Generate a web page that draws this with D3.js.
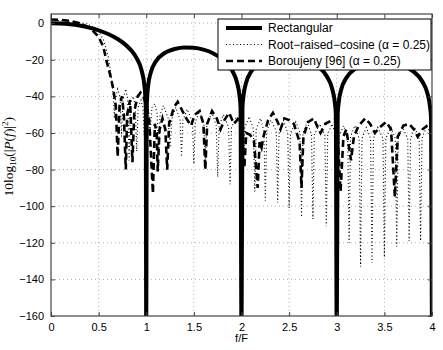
<!DOCTYPE html>
<html>
<head>
<meta charset="utf-8">
<script src="https://cdn.jsdelivr.net/npm/d3@7"></script>
<style>
  body { margin: 0; background: #fff; }
  svg { display: block; }
</style>
</head>
<body>
<svg id="chart" width="443" height="350"></svg>
<script>
const fTicks = [0, 0.5, 1, 1.5, 2, 2.5, 3, 3.5, 4];
const dbTicks = [-160, -140, -120, -100, -80, -60, -40, -20, 0];

const seriesNames = ["Rectangular", "Root\u2212raised\u2212cosine (\u03b1 = 0.25)", "Boroujeny [96] (\u03b1 = 0.25)"];

// [f/F, dB]
const rectangular = [
    [0, 0], [0.1, -0.14], [0.2, -0.58], [0.3, -1.33], [0.4, -2.42], [0.5, -3.92], [0.6, -5.94],
    [0.7, -8.69], [0.8, -12.6], [0.85, -15.4], [0.9, -19.2], [0.95, -25.6], [0.98, -33.8],
    [0.99, -39.9], [0.995, -46], [1, -175], [1.005, -46.1], [1.01, -40.1], [1.02, -34.2],
    [1.05, -26.5], [1.1, -21], [1.2, -16.1], [1.3, -14.1], [1.4, -13.3], [1.5, -13.5],
    [1.6, -14.5], [1.7, -16.4], [1.8, -19.7], [1.9, -25.7], [1.95, -31.9], [1.98, -39.9],
    [1.99, -46], [2, -175], [2.01, -46.1], [2.02, -40.1], [2.05, -32.3], [2.1, -26.6],
    [2.2, -21.4], [2.3, -19], [2.4, -18], [2.5, -17.9], [2.6, -18.7], [2.7, -20.4],
    [2.8, -23.5], [2.9, -29.4], [2.95, -35.5], [2.98, -43.5], [2.99, -49.5], [3, -175],
    [3.01, -49.6], [3.02, -43.6], [3.05, -35.7], [3.1, -30], [3.2, -24.7], [3.3, -22.2],
    [3.4, -21], [3.5, -20.8], [3.6, -21.5], [3.7, -23.2], [3.8, -26.2], [3.9, -32],
    [3.95, -38], [3.98, -46], [3.99, -52], [4, -175]
];

const rootRaisedCosine = [
    [0, 1.5], [0.1, 1.3], [0.2, 0.8], [0.3, 0.2], [0.38, -0.5], [0.44, -2], [0.5, -4.5],
    [0.55, -9], [0.6, -18], [0.63, -28], [0.655, -40], [0.665, -52], [0.675, -42], [0.7, -36],
    [0.725, -40], [0.74, -62], [0.755, -42], [0.785, -36], [0.805, -42], [0.82, -75],
    [0.835, -43], [0.865, -40], [0.885, -46], [0.9, -70], [0.915, -46], [0.945, -42],
    [0.965, -46], [0.98, -62], [0.995, -46], [1.02, -44], [1.04, -60], [1.06, -46],
    [1.09, -44], [1.115, -50], [1.13, -70], [1.145, -50], [1.18, -45], [1.23, -52], [1.25, -68],
    [1.27, -52], [1.31, -46], [1.355, -53], [1.37, -73], [1.385, -53], [1.43, -47],
    [1.485, -54], [1.5, -77], [1.515, -54], [1.56, -48], [1.605, -55], [1.62, -80],
    [1.635, -55], [1.69, -49], [1.735, -56], [1.75, -84], [1.765, -56], [1.81, -50],
    [1.865, -57], [1.88, -88], [1.895, -57], [1.95, -51], [2.005, -57], [2.02, -80],
    [2.035, -57], [2.08, -51], [2.125, -58], [2.14, -92], [2.155, -58], [2.2, -52],
    [2.235, -59], [2.25, -97], [2.265, -59], [2.31, -53], [2.365, -59], [2.38, -98],
    [2.395, -59], [2.44, -53], [2.485, -60], [2.5, -101], [2.515, -60], [2.57, -54],
    [2.615, -60], [2.63, -106], [2.645, -60], [2.69, -54], [2.735, -61], [2.75, -107],
    [2.765, -61], [2.82, -55], [2.875, -61], [2.89, -111], [2.905, -61], [2.95, -55],
    [2.995, -62], [3.01, -115], [3.025, -62], [3.07, -56], [3.115, -62], [3.13, -120],
    [3.145, -62], [3.19, -56], [3.235, -63], [3.25, -133], [3.265, -63], [3.31, -57],
    [3.355, -63], [3.37, -131], [3.385, -63], [3.43, -57], [3.485, -63], [3.5, -128],
    [3.515, -63], [3.57, -57], [3.615, -63], [3.63, -122], [3.645, -63], [3.69, -57],
    [3.745, -63], [3.76, -119], [3.775, -63], [3.82, -57], [3.865, -63], [3.88, -119],
    [3.895, -63], [3.94, -57], [4, -60]
];

const boroujeny = [
    [0, 2], [0.1, 1.8], [0.2, 1.2], [0.3, 0], [0.4, -2.5], [0.45, -4.7], [0.5, -7.5],
    [0.55, -13], [0.58, -20], [0.62, -28], [0.65, -35], [0.68, -45], [0.7, -73], [0.72, -45],
    [0.745, -40], [0.765, -50], [0.785, -80], [0.8, -50], [0.83, -42], [0.855, -76],
    [0.875, -48], [0.91, -40], [0.94, -38], [0.97, -40], [1, -45], [1.03, -52], [1.07, -93],
    [1.09, -55], [1.11, -60], [1.12, -81], [1.14, -58], [1.17, -52], [1.2, -58], [1.22, -80],
    [1.24, -55], [1.29, -46], [1.33, -43], [1.37, -47], [1.42, -52], [1.47, -56], [1.51, -50],
    [1.56, -48], [1.6, -55], [1.62, -80], [1.64, -55], [1.69, -48], [1.74, -52], [1.78, -58],
    [1.82, -53], [1.87, -49], [1.92, -55], [1.97, -52], [2, -50], [2.03, -79], [2.05, -60],
    [2.09, -61], [2.13, -64], [2.17, -90], [2.19, -65], [2.21, -68], [2.23, -62], [2.28, -53],
    [2.33, -49], [2.38, -54], [2.41, -58], [2.45, -52], [2.5, -53], [2.55, -55], [2.58, -60],
    [2.61, -65], [2.63, -90], [2.65, -62], [2.7, -54], [2.76, -52], [2.8, -57], [2.83, -60],
    [2.88, -55], [2.95, -53], [3, -52], [3.04, -92], [3.07, -62], [3.1, -58], [3.15, -75],
    [3.18, -62], [3.23, -56], [3.3, -52], [3.35, -55], [3.4, -60], [3.45, -57], [3.52, -54],
    [3.57, -58], [3.61, -95], [3.64, -62], [3.7, -56], [3.76, -55], [3.81, -58], [3.85, -62],
    [3.9, -58], [3.95, -56], [4, -55]
];

const svg = d3.select("#chart");
const margin = { left: 51, right: 11, top: 14, bottom: 34 };
const width = 443 - margin.left - margin.right;
const height = 350 - margin.top - margin.bottom;

const x = d3.scaleLinear().domain([0, 4]).range([0, width]);
const y = d3.scaleLinear().domain([-160, 5]).range([height, 0]);

const g = svg.append("g").attr("transform", `translate(${margin.left},${margin.top})`);

g.append("clipPath").attr("id", "plot-clip")
    .append("rect").attr("width", width).attr("height", height);

// grid
g.append("g")
    .selectAll("line")
    .data(fTicks.slice(1, -1))
    .join("line")
    .attr("x1", (d) => x(d)).attr("x2", (d) => x(d))
    .attr("y1", 0).attr("y2", height)
    .attr("stroke", "#b0b0b0").attr("stroke-width", 1)
    .attr("stroke-dasharray", "1,3");

g.append("g")
    .selectAll("line")
    .data(dbTicks.slice(1))
    .join("line")
    .attr("x1", 0).attr("x2", width)
    .attr("y1", (d) => y(d)).attr("y2", (d) => y(d))
    .attr("stroke", "#b0b0b0").attr("stroke-width", 1)
    .attr("stroke-dasharray", "1,3");

const line = d3.line()
    .x((d) => x(d[0]))
    .y((d) => y(d[1]));

const curves = g.append("g").attr("clip-path", "url(#plot-clip)");

curves.append("path").datum(rootRaisedCosine)
    .attr("d", line).attr("fill", "none")
    .attr("stroke", "#000").attr("stroke-width", 1.1)
    .attr("stroke-dasharray", "1,2.5");

curves.append("path").datum(boroujeny)
    .attr("d", line).attr("fill", "none")
    .attr("stroke", "#000").attr("stroke-width", 2.6)
    .attr("stroke-dasharray", "7,4");

curves.append("path").datum(rectangular)
    .attr("d", line.curve(d3.curveMonotoneX)).attr("fill", "none")
    .attr("stroke", "#000").attr("stroke-width", 4);

// axes frame with inward ticks
const tickLen = 4;
const axisColor = "#444";
const font = "'Liberation Sans', Arial, Helvetica, sans-serif";

const xBottom = d3.axisBottom(x).tickValues(fTicks).tickSize(-tickLen).tickPadding(7)
    .tickFormat((d) => String(d));
const xTop = d3.axisTop(x).tickValues(fTicks).tickSize(-tickLen).tickFormat("");
const yLeft = d3.axisLeft(y).tickValues(dbTicks).tickSize(-tickLen).tickPadding(7)
    .tickFormat((d) => String(d).replace("-", "\u2212"));
const yRight = d3.axisRight(y).tickValues(dbTicks).tickSize(-tickLen).tickFormat("");

function styleAxis(sel) {
    sel.select(".domain").remove();
    sel.selectAll(".tick line").attr("stroke", axisColor);
    sel.selectAll("text").attr("fill", "#000").attr("font-family", font).attr("font-size", 11);
}

g.append("g").attr("transform", `translate(0,${height})`).call(xBottom).call(styleAxis);
g.append("g").call(xTop).call(styleAxis);
g.append("g").call(yLeft).call(styleAxis);
g.append("g").attr("transform", `translate(${width},0)`).call(yRight).call(styleAxis);

g.append("rect")
    .attr("width", width).attr("height", height)
    .attr("fill", "none").attr("stroke", axisColor).attr("stroke-width", 1.2);

// axis labels
g.append("text")
    .attr("x", width / 2).attr("y", height + 26)
    .attr("text-anchor", "middle")
    .attr("font-family", font).attr("font-size", 11)
    .text("f/F");

const yLabel = svg.append("text")
    .attr("transform", `translate(13,${margin.top + y(-73)}) rotate(-90)`)
    .attr("text-anchor", "middle")
    .attr("font-family", "'Liberation Serif', 'Times New Roman', serif")
    .attr("font-size", 13.5);
yLabel.append("tspan").text("10log");
yLabel.append("tspan").attr("font-size", 9).attr("dy", 3).text("10");
yLabel.append("tspan").attr("dy", -3).text("(|");
yLabel.append("tspan").attr("font-style", "italic").text("P");
yLabel.append("tspan").text("(");
yLabel.append("tspan").attr("font-style", "italic").text("f");
yLabel.append("tspan").text(")|");
yLabel.append("tspan").attr("font-size", 9).attr("dy", -5).text("2");
yLabel.append("tspan").attr("dy", 5).text(")");

// legend
const legend = svg.append("g").attr("transform", "translate(218,19)");
legend.append("rect")
    .attr("width", 213).attr("height", 51)
    .attr("fill", "#fff").attr("stroke", "#000").attr("stroke-width", 1);

const legendStyles = [
    { width: 4, dash: null },
    { width: 1.1, dash: "1,2.5" },
    { width: 2.6, dash: "7,4" }
];

const entries = legend.selectAll("g.entry")
    .data(seriesNames)
    .join("g")
    .attr("class", "entry")
    .attr("transform", (d, i) => `translate(0,${9 + i * 16.5})`);

entries.append("line")
    .attr("x1", 8).attr("x2", 44)
    .attr("stroke", "#000")
    .attr("stroke-width", (d, i) => legendStyles[i].width)
    .attr("stroke-dasharray", (d, i) => legendStyles[i].dash);

entries.append("text")
    .attr("x", 50).attr("dy", "0.35em")
    .attr("font-family", font).attr("font-size", 12)
    .text((d) => d);
</script>
</body>
</html>
